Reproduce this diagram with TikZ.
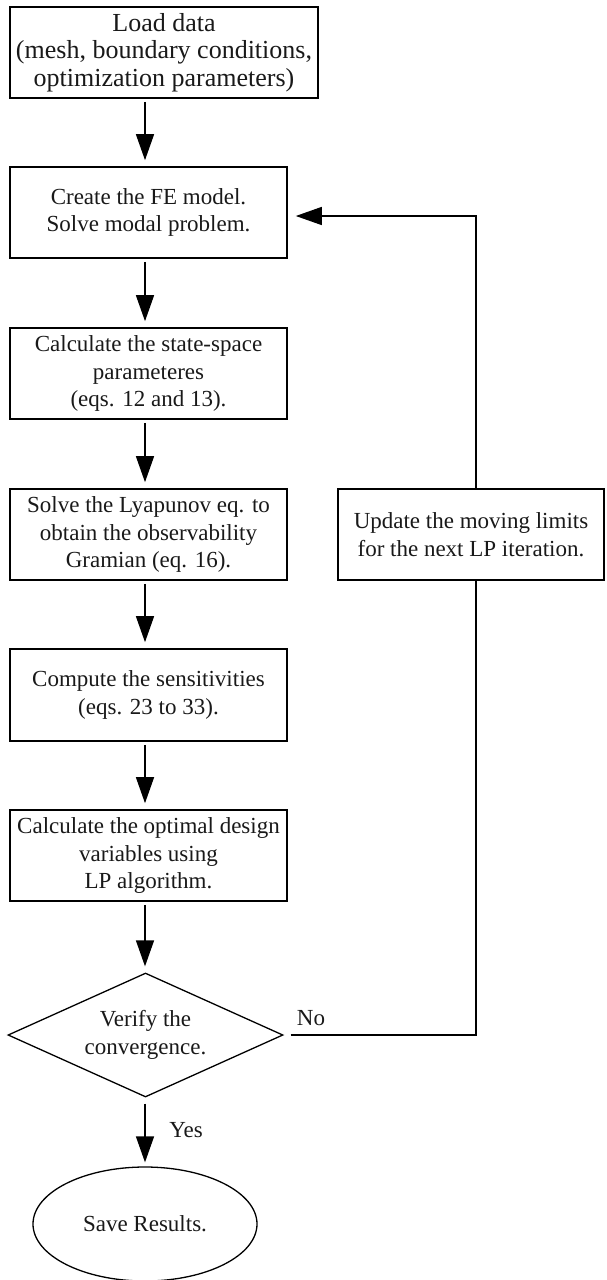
\documentclass[tikz,border=0pt]{standalone}
\usepackage{fontspec}
\setmainfont{Liberation Serif}
\usetikzlibrary{shapes.geometric,arrows.meta}
\begin{document}
\begin{tikzpicture}[x=1pt,y=-1pt,
  txt/.style={font=\fontsize{23}{27.5}\selectfont, text=black!90},
  box/.style={txt, draw, line width=1.6pt, minimum width=277pt, minimum height=91pt, align=center, inner sep=0pt},
  arr/.style={line width=1.4pt, -{Triangle[length=26pt,width=18pt]}, shorten <=3pt, shorten >=6pt},
  ln/.style={line width=1.4pt}
]
\useasboundingbox (0,0) rectangle (606,1280);
\node[box, minimum width=308pt, font=\fontsize{26}{27.5}\selectfont] (b1) at (164,52.5) {Load data\\(mesh, boundary conditions,\\optimization parameters)};
\node[box] (b2) at (148.5,212.5) {Create the FE model.\\Solve modal problem.};
\node[box] (b3) at (148.5,373.5) {Calculate the state-space\\parameteres\\(eqs. 12 and 13).};
\node[box] (b4) at (148.5,534.5) {Solve the Lyapunov eq. to\\obtain the observability\\Gramian (eq. 16).};
\node[box, minimum height=92pt] (b5) at (148.5,695) {Compute the sensitivities\\(eqs. 23 to 33).};
\node[box] (b6) at (148.5,855.5) {Calculate the optimal design\\variables using\\LP algorithm.};
\node[box, minimum width=266pt] (up) at (471,534.5) {Update the moving limits\\for the next LP iteration.};
\node[txt, draw, diamond, line width=1.3pt, minimum width=275pt, minimum height=124pt, aspect=2.2, inner sep=0pt, align=center] (dv) at (145.5,1035) {Verify the\\convergence.};
\node[txt, draw, ellipse, line width=1.3pt, minimum width=224pt, minimum height=114pt, inner sep=0pt] (sv) at (145,1224) {Save Results.};
\node[txt] (no) at (311,1018) {No};
\node[txt] (yes) at (186,1130) {Yes};
\coordinate (col) at (476,216);
\draw[arr] (b1.south -| sv.center) -- (b2.north -| sv.center);
\draw[arr] (b2.south -| sv.center) -- (b3.north -| sv.center);
\draw[arr] (b3.south -| sv.center) -- (b4.north -| sv.center);
\draw[arr] (b4.south -| sv.center) -- (b5.north -| sv.center);
\draw[arr] (b5.south -| sv.center) -- (b6.north -| sv.center);
\draw[arr] (b6.south -| sv.center) -- (dv.north -| sv.center);
\draw[arr, shorten <=6pt, shorten >=4pt] (dv.south -| sv.center) -- (sv.north);
\draw[ln, shorten <=7pt] (dv.east) -- (dv.east -| col) -- (up.south -| col);
\draw[arr, shorten <=0pt, shorten >=8pt] (up.north -| col) -- (col) -- (col -| b2.east);
\end{tikzpicture}
\end{document}
